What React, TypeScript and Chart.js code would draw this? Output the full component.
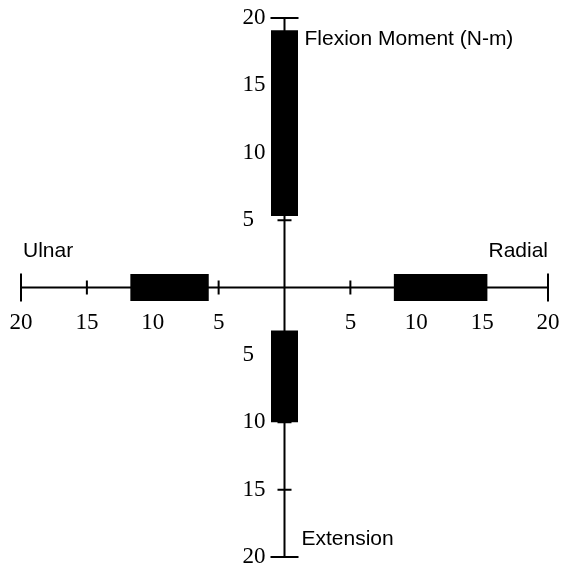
import { useEffect, useRef } from 'react';
import { Chart, registerables } from 'chart.js';

Chart.register(...registerables);

// Axis tick values (signed); labels show magnitudes
const xTickValues = [-20, -15, -10, -5, 5, 10, 15, 20];
const yTickValues = [20, 15, 10, 5, -5, -10, -15, -20];
const minorTicks = [-15, -10, -5, 5, 10, 15];

// Moment ranges (N-m): flexion positive y, extension negative y, radial positive x, ulnar negative x
const flexionRange = [5.3, 19.1];
const extensionRange = [-3.2, -10.0];
const ulnarRange = [-5.75, -11.7];
const radialRange = [8.3, 15.4];

const axisLabels = {
  flexion: 'Flexion Moment (N-m)',
  extension: 'Extension',
  ulnar: 'Ulnar',
  radial: 'Radial',
};

export default function App() {
  const ref = useRef<HTMLCanvasElement>(null);

  useEffect(() => {
    if (!ref.current) return;
    const crossAxes = {
      id: 'crossAxes',
      beforeDatasetsDraw(chart: any) {
        const ctx = chart.ctx as CanvasRenderingContext2D;
        const xs = chart.scales.x;
        const ys = chart.scales.y;
        const x0 = xs.getPixelForValue(0);
        const y0 = ys.getPixelForValue(0);
        const xl = xs.getPixelForValue(-20);
        const xr = xs.getPixelForValue(20);
        const yt = ys.getPixelForValue(20);
        const yb = ys.getPixelForValue(-20);
        ctx.save();
        ctx.strokeStyle = '#000';
        ctx.lineWidth = 2;
        ctx.beginPath();
        ctx.moveTo(xl, y0);
        ctx.lineTo(xr, y0);
        ctx.moveTo(x0, yt);
        ctx.lineTo(x0, yb);
        // end ticks
        ctx.moveTo(xl, y0 - 14);
        ctx.lineTo(xl, y0 + 14);
        ctx.moveTo(xr, y0 - 14);
        ctx.lineTo(xr, y0 + 14);
        ctx.moveTo(x0 - 14, yt);
        ctx.lineTo(x0 + 14, yt);
        ctx.moveTo(x0 - 14, yb);
        ctx.lineTo(x0 + 14, yb);
        // minor ticks
        for (const v of minorTicks) {
          const px = xs.getPixelForValue(v);
          ctx.moveTo(px, y0 - 7);
          ctx.lineTo(px, y0 + 7);
          const py = ys.getPixelForValue(v);
          ctx.moveTo(x0 - 7, py);
          ctx.lineTo(x0 + 7, py);
        }
        ctx.stroke();

        // tick labels
        ctx.fillStyle = '#000';
        ctx.font = '23px "Liberation Serif", "Times New Roman", serif';
        ctx.textAlign = 'center';
        ctx.textBaseline = 'middle';
        for (const v of xTickValues) {
          ctx.fillText(String(Math.abs(v)), xs.getPixelForValue(v), y0 + 35);
        }
        ctx.textAlign = 'left';
        for (const v of yTickValues) {
          ctx.fillText(String(Math.abs(v)), x0 - 42, ys.getPixelForValue(v));
        }

        // axis names
        ctx.font = '21px "Liberation Sans", Arial, sans-serif';
        ctx.textBaseline = 'middle';
        ctx.textAlign = 'left';
        ctx.fillText(axisLabels.flexion, x0 + 20, ys.getPixelForValue(18.45));
        ctx.fillText(axisLabels.extension, x0 + 17, ys.getPixelForValue(-18.65));
        ctx.fillText(axisLabels.ulnar, xl + 2, y0 - 36);
        ctx.textAlign = 'right';
        ctx.fillText(axisLabels.radial, xr, y0 - 36);
        ctx.restore();
      },
    };

    const barStyle = {
      borderColor: '#000',
      backgroundColor: '#000',
      borderWidth: 27,
      borderCapStyle: 'butt' as const,
      pointRadius: 0,
      fill: false,
      tension: 0,
    };

    const chart = new Chart(ref.current, {
      type: 'line',
      data: {
        datasets: [
          { label: 'Flexion', data: flexionRange.map((v) => ({ x: 0, y: v })), ...barStyle },
          { label: 'Extension', data: extensionRange.map((v) => ({ x: 0, y: v })), ...barStyle },
          { label: 'Ulnar', data: ulnarRange.map((v) => ({ x: v, y: 0 })), ...barStyle },
          { label: 'Radial', data: radialRange.map((v) => ({ x: v, y: 0 })), ...barStyle },
        ],
      },
      options: {
        responsive: false,
        animation: false,
        layout: { padding: { left: 21, right: 16, top: 18, bottom: 12 } },
        scales: {
          x: { type: 'linear', min: -20, max: 20, display: false },
          y: { type: 'linear', min: -20, max: 20, display: false },
        },
        plugins: {
          legend: { display: false },
          tooltip: { enabled: false },
        },
      },
      plugins: [crossAxes],
    });
    return () => chart.destroy();
  }, []);

  return (
    <div style={{ position: 'fixed', left: 0, top: 0, width: 564, height: 569, background: '#fff' }}>
      <canvas ref={ref} width={564} height={569} style={{ width: 564, height: 569, display: 'block' }} />
    </div>
  );
}
